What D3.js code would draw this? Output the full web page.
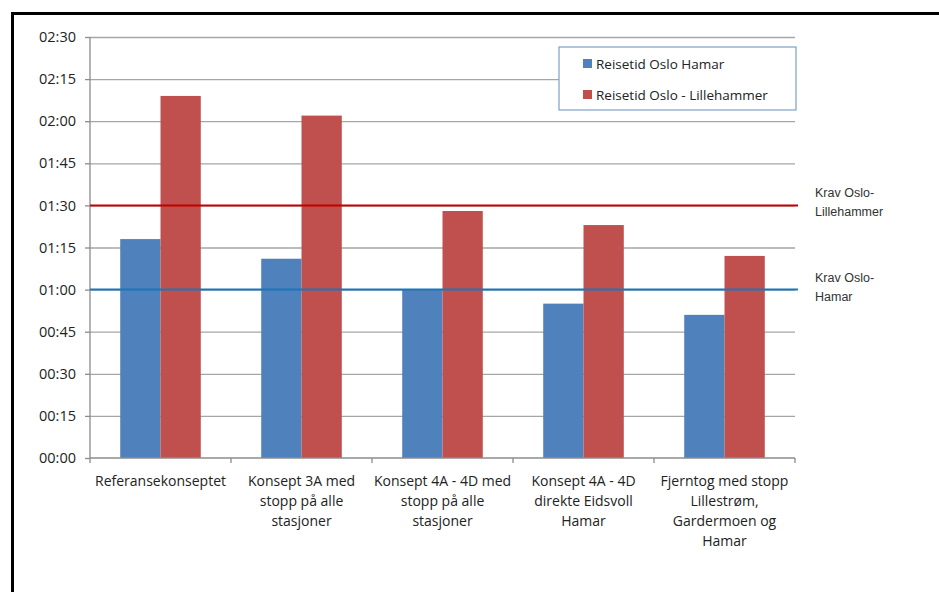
<!DOCTYPE html>
<meta charset="utf-8">
<style>
body { margin: 0; background: #fff; }
.frame { fill: none; stroke: #000; stroke-width: 3px; }
.grid line { stroke: #a6a6a6; stroke-width: 1.3px; }
.grid path { stroke-width: 0; }
.axis path, .axis line { stroke: #8c8c8c; stroke-width: 1.3px; }
.axis text { font: 14px "Open Sans", sans-serif; fill: #222; }
.ylab text { font-size: 14.5px; }
.legend text { font: 13.5px "Open Sans", sans-serif; fill: #222; }
.req text { font: 12.5px "Liberation Sans", Arial, sans-serif; fill: #333; }
</style>
<body>
<script src="https://d3js.org/d3.v7.min.js"></script>
<script>

// categories (x axis labels, split into lines)
var categories = [
  ["Referansekonseptet"],
  ["Konsept 3A med", "stopp på alle", "stasjoner"],
  ["Konsept 4A - 4D med", "stopp på alle", "stasjoner"],
  ["Konsept 4A - 4D", "direkte Eidsvoll", "Hamar"],
  ["Fjerntog med  stopp", "Lillestrøm,", "Gardermoen og", "Hamar"]
];
var seriesNames = ["Reisetid Oslo Hamar", "Reisetid Oslo - Lillehammer"];
// travel times in minutes
var hamar = [78, 71, 60, 55, 51];
var lillehammer = [129, 122, 88, 83, 72];
// requirement lines (minutes)
var reqValues = [90, 60];
var reqLabels = [["Krav Oslo-", "Lillehammer"], ["Krav Oslo-", "Hamar"]];
var yTicks = [0, 15, 30, 45, 60, 75, 90, 105, 120, 135, 150];

var W = 939, H = 592;
var margin = {top: 37, left: 90},
    width = 705,
    height = 421;

var svg = d3.select("body").append("svg")
    .attr("width", W)
    .attr("height", H);

// outer frame (only top and left visible)
svg.append("rect")
    .attr("class", "frame")
    .attr("x", 12.5).attr("y", 13.5)
    .attr("width", W + 20).attr("height", H + 20);

var g = svg.append("g")
    .attr("transform", "translate(" + margin.left + "," + margin.top + ")");

var idx = d3.range(categories.length);
var x = d3.scaleBand().domain(idx).range([0, width]).paddingInner(0).paddingOuter(0);
var x1 = d3.scaleBand().domain([0, 1]).range([0, x.bandwidth()]).paddingInner(0).paddingOuter(0.75);
var y = d3.scaleLinear().domain([0, 150]).range([height, 0]);

function fmt(m) {
  return d3.format("02")(Math.floor(m / 60)) + ":" + d3.format("02")(m % 60);
}

// gridlines
g.append("g")
    .attr("class", "grid")
    .call(d3.axisLeft(y).tickValues(yTicks.slice(1)).tickSize(-width).tickFormat(""));

// bars
var colors = ["#4f81bd", "#c0504d"];
var series = [hamar, lillehammer];
series.forEach(function(vals, s) {
  g.selectAll(".bar" + s)
      .data(vals)
    .enter().append("rect")
      .attr("x", function(d, i) { return x(i) + x1(s); })
      .attr("y", function(d) { return y(d); })
      .attr("width", x1.bandwidth())
      .attr("height", function(d) { return height - y(d); })
      .style("fill", colors[s]);
});

// y axis
var yAxis = g.append("g")
    .attr("class", "axis ylab")
    .call(d3.axisLeft(y).tickValues(yTicks).tickSize(5).tickPadding(9).tickFormat(fmt));
yAxis.select(".domain").attr("d", "M0,0V" + height);

// x axis with ticks at category boundaries
var xAxis = g.append("g")
    .attr("class", "axis")
    .attr("transform", "translate(0," + height + ")");
xAxis.append("line").attr("x1", 0).attr("x2", width);
xAxis.selectAll(".xt")
    .data(d3.range(categories.length + 1))
  .enter().append("line")
    .attr("x1", function(i) { return i * x.step(); })
    .attr("x2", function(i) { return i * x.step(); })
    .attr("y1", 0).attr("y2", 5);
xAxis.selectAll(".xl")
    .data(categories)
  .enter().append("text")
    .attr("text-anchor", "middle")
    .attr("transform", function(d, i) { return "translate(" + (x(i) + x.bandwidth() / 2) + ",28)"; })
    .selectAll("tspan")
    .data(function(d) { return d; })
  .enter().append("tspan")
    .attr("x", 0)
    .attr("y", function(d, j) { return j * 20; })
    .text(function(d) { return d; });

// requirement lines
var reqColors = ["#c00000", "#1a76bb"];
reqValues.forEach(function(v, k) {
  g.append("line")
      .attr("x1", 0).attr("x2", width + 3)
      .attr("y1", y(v)).attr("y2", y(v))
      .style("stroke", reqColors[k])
      .style("stroke-width", 2);
  var t = g.append("g").attr("class", "req")
    .append("text")
      .attr("transform", "translate(" + (width + 20) + "," + (y(v) - 8) + ")");
  t.selectAll("tspan")
      .data(reqLabels[k])
    .enter().append("tspan")
      .attr("x", 0)
      .attr("y", function(d, j) { return j * 19; })
      .text(function(d) { return d; });
});

// legend
var legend = svg.append("g").attr("class", "legend")
    .attr("transform", "translate(559,47)");
legend.append("rect")
    .attr("width", 237).attr("height", 63)
    .style("fill", "#fff")
    .style("stroke", "#7e9fc8")
    .style("stroke-width", 1.2);
seriesNames.forEach(function(n, s) {
  legend.append("rect")
      .attr("x", 24).attr("y", 12 + s * 31)
      .attr("width", 9).attr("height", 9)
      .style("fill", colors[s]);
  legend.append("text")
      .attr("x", 37).attr("y", 22 + s * 31)
      .text(n);
});

</script>
</body>
